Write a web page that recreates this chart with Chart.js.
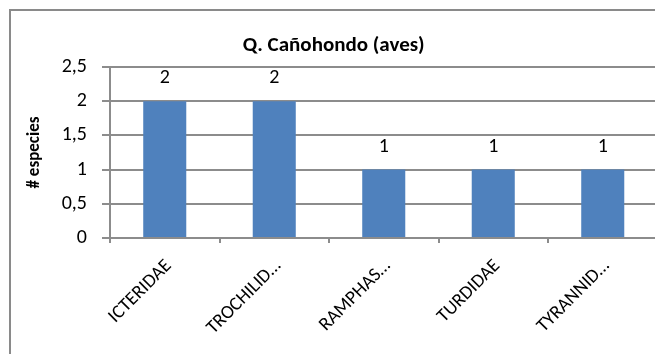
<!DOCTYPE html>
<html>
<head>
<meta charset="utf-8">
<script src="https://cdn.jsdelivr.net/npm/chart.js@4"></script>
<style>
  html, body { margin: 0; padding: 0; background: #fff; }
  body { width: 655px; height: 354px; overflow: hidden; position: relative; }
  #frame { position: absolute; left: 9px; top: 9px; width: 680px; height: 400px; border: 2px solid #8a8a8a; box-sizing: border-box; }
  #wrap { position: absolute; left: 0; top: 0; width: 674px; height: 354px; }
</style>
</head>
<body>
<div id="frame"></div>
<div id="wrap"><canvas id="chart" width="674" height="354"></canvas></div>
<script>
(() => {
  'use strict';

  const categories = ['ICTERIDAE', 'TROCHILID…', 'RAMPHAS…', 'TURDIDAE', 'TYRANNID…'];
  const especies = [2, 2, 1, 1, 1];
  const yTicks = [0, 0.5, 1, 1.5, 2, 2.5];

  const font = "Carlito, Lato, 'Liberation Sans', sans-serif";
  const gridColor = '#8c8c8c';

  const commaFmt = v => String(v).replace('.', ',');

  // values above bars
  const barLabels = {
    id: 'barLabels',
    afterDatasetsDraw(chart) {
      const ctx = chart.ctx;
      const meta = chart.getDatasetMeta(0);
      ctx.save();
      ctx.font = '20px ' + font;
      ctx.fillStyle = '#000';
      ctx.textAlign = 'center';
      ctx.textBaseline = 'middle';
      meta.data.forEach((bar, i) => {
        ctx.fillText(commaFmt(especies[i]), bar.x, bar.y - 23);
      });
      ctx.restore();
    }
  };

  new Chart(document.getElementById('chart').getContext('2d'), {
    type: 'bar',
    data: {
      labels: categories,
      datasets: [{
        data: especies,
        backgroundColor: '#4f81bd',
        borderWidth: 0,
        categoryPercentage: 1,
        barPercentage: 0.393
      }]
    },
    options: {
      responsive: false,
      animation: false,
      layout: { padding: { left: 10, right: 16.5, top: 0, bottom: 0 } },
      plugins: {
        legend: { display: false },
        tooltip: { enabled: false },
        title: {
          display: true,
          text: 'Q. Cañohondo (aves)',
          color: '#000',
          font: { family: font, size: 21, weight: 'bold', lineHeight: 1.2 },
          padding: { top: 33.4, bottom: 8.4 }
        }
      },
      scales: {
        x: {
          offset: true,
          afterFit: axis => { axis.height = 116; },
          grid: { offset: true, drawOnChartArea: false, drawTicks: true, tickLength: 5, color: gridColor, lineWidth: 2 },
          border: { color: gridColor, width: 2 },
          ticks: {
            color: '#000',
            font: { family: font, size: 19 },
            minRotation: 45,
            maxRotation: 45,
            autoSkip: false,
            labelOffset: 4,
            padding: 12
          }
        },
        y: {
          min: 0,
          max: 2.5,
          afterFit: axis => { axis.width = 100; },
          afterBuildTicks: axis => { axis.ticks = yTicks.map(v => ({ value: v })); },
          grid: { color: gridColor, lineWidth: 2, tickLength: 8 },
          border: { color: gridColor, width: 2 },
          ticks: {
            color: '#000',
            font: { family: font, size: 20 },
            padding: 15,
            callback: v => commaFmt(v)
          },
          title: {
            display: true,
            text: '# especies',
            color: '#000',
            font: { family: font, size: 17, weight: 'bold' },
            padding: { top: 15, bottom: 0 }
          }
        }
      }
    },
    plugins: [barLabels]
  });
})();
</script>
</body>
</html>
